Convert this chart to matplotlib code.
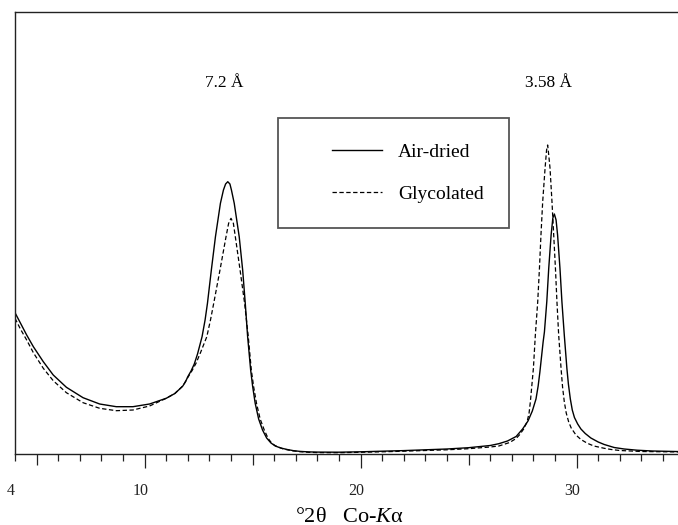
import numpy as np
import matplotlib
matplotlib.use("Agg")
import matplotlib.pyplot as plt
from matplotlib.legend_handler import HandlerLine2D
from matplotlib.transforms import ScaledTranslation

plt.rcParams['font.family'] = ['Liberation Serif', 'DejaVu Serif']
plt.rcParams['mathtext.fontset'] = 'custom'
plt.rcParams['mathtext.rm'] = 'Liberation Serif'
plt.rcParams['mathtext.it'] = 'Liberation Serif:italic'

# ---- data (°2θ, intensity in arbitrary units) ----
air_x = [4.0, 4.25, 4.54, 4.85, 5.31, 5.77, 6.38, 7.15, 7.92, 8.69, 9.46, 10.23,
         11.0, 11.4, 11.6, 11.77, 11.9, 12.0, 12.15, 12.3, 12.45, 12.66, 12.8, 12.91,
         13.09, 13.28, 13.51, 13.65, 13.75, 13.85, 13.95, 14.02, 14.15, 14.38, 14.54,
         14.66, 14.77, 14.91, 15.0, 15.12, 15.28, 15.46, 15.65, 15.85, 16.05, 16.3,
         16.6, 16.9, 17.2, 17.6, 18.0, 19.0, 20.0, 21.0, 22.0, 23.0, 24.0, 25.0,
         26.0, 26.4, 26.8, 27.2, 27.5, 27.75, 27.95, 28.12, 28.22, 28.3, 28.38,
         28.45, 28.51, 28.62, 28.71, 28.82, 28.9, 28.97, 29.05, 29.12, 29.23, 29.32,
         29.43, 29.55, 29.62, 29.71, 29.8, 29.9, 30.05, 30.2, 30.4, 30.66, 31.0,
         31.28, 31.74, 32.2, 32.8, 33.5, 35.0]
air_y = [141.3, 131, 119, 107.3, 92.3, 79, 66.7, 56.3, 50, 47.3, 47.3, 50,
         55.7, 60.5, 64.5, 68, 72.5, 77.3, 83, 90, 100, 117.3, 134, 150.7,
         184, 217.3, 250.7, 264, 270, 272.3, 270, 264, 250.7, 217.3, 184,
         150.7, 117.3, 84, 68, 50.7, 35, 24, 16, 11, 8, 6,
         4.5, 3.3, 2.6, 2.1, 1.9, 1.8, 2.2, 2.8, 3.4, 4.2, 5, 6.3,
         8.5, 10.3, 13, 17.5, 25, 33, 43, 55, 68, 82, 98,
         112, 122, 152.3, 185.7, 219, 236, 240, 234, 219, 185.7, 152.3,
         119, 85.7, 70, 55, 44, 36.5, 30, 25, 20.5, 16, 12,
         9.5, 6.5, 5, 3.8, 3, 2.3]

gly_x = [4.0, 4.25, 4.54, 4.85, 5.31, 5.77, 6.38, 7.15, 7.92, 8.69, 9.46, 10.23,
         11.0, 11.4, 11.77, 12.0, 12.2, 12.38, 12.6, 12.88, 13.05, 13.2, 13.49, 13.77,
         13.89, 14.0, 14.11, 14.2, 14.42, 14.63, 14.8, 14.94, 15.05, 15.18, 15.35,
         15.54, 15.72, 15.89, 16.05, 16.25, 16.4, 16.8, 17.2, 17.6, 18.0, 19.0, 20.0,
         21.0, 22.0, 23.0, 24.0, 25.0, 26.0, 26.4, 26.9, 27.2, 27.35, 27.55, 27.71,
         27.8, 27.86, 28.0, 28.09, 28.2, 28.28, 28.35, 28.43, 28.54, 28.61, 28.66,
         28.71, 28.77, 28.86, 28.94, 29.02, 29.09, 29.17, 29.28, 29.35, 29.43, 29.52,
         29.63, 29.75, 29.97, 30.2, 30.5, 30.8, 31.28, 31.6, 32.0, 33.0, 35.0]
gly_y = [135.7, 125, 114, 101.3, 85.7, 73.3, 61.3, 51.3, 45.7, 43.3, 44, 48,
         55.7, 60.5, 68, 76.5, 83.5, 90.7, 102, 117.3, 134, 150.7, 184, 217.3,
         230.7, 235.7, 230.7, 217.3, 184, 150.7, 117.3, 84, 67, 50.7, 35,
         24, 15.5, 10.7, 8.3, 6.5, 5.2, 3.3, 2.3, 1.7, 1.4, 1.3, 1.7,
         2.2, 2.8, 3.5, 4.2, 5.3, 7, 8, 11.5, 15.5, 19, 25, 32.3,
         41, 52.3, 85.7, 119, 152.3, 185.7, 219, 252.3, 285.7, 304, 309,
         299, 285.7, 252.3, 219, 185.7, 152.3, 119, 85.7, 67, 52.3, 41,
         32.3, 26, 19, 14.5, 10.7, 8, 5.7, 4.5, 3.5, 2.5, 2]

series_labels = ['Air-dried', 'Glycolated']
peak_labels = ['7.2 Å', '3.58 Å']
peak_pos = [13.7, 28.7]
tick_vals = [4, 5, 10, 15, 20, 25, 30, 35]
tick_text = ['4', '', '10', '', '20', '', '30', '']

W, H = 678, 525
PT = 72 / 100  # points per pixel at dpi 100
fig = plt.figure(figsize=(W / 100, H / 100), dpi=100)
x0_px, unit_px = 15, 21.6
ax = fig.add_axes([x0_px / W, 1 - 454 / H, 31 * unit_px / W, (454 - 12) / H])

ax.plot(air_x, air_y, color='black', lw=1.0, label=series_labels[0])
ax.plot(gly_x, gly_y, color='black', lw=0.9, ls=(0, (3.5, 2)), label=series_labels[1])

ax.set_xlim(4, 35)
ax.set_ylim(0, 442)
ax.set_yticks([])
for s in ax.spines.values():
    s.set_linewidth(1.0)
    s.set_color('#222222')

ax.set_xticks(tick_vals, labels=tick_text)
ax.set_xticks(np.arange(4, 36, 1), minor=True)
ax.tick_params(axis='x', which='major', direction='out', length=14 * PT, width=0.9,
               pad=11, labelsize=11.5, colors='#222222')
ax.tick_params(axis='x', which='minor', direction='out', length=7 * PT, width=0.9,
               colors='#222222')
for v, t in zip(tick_vals, ax.xaxis.get_major_ticks()):
    if v == 4:
        t.tick1line.set_markersize(7 * PT)
    elif v % 10 == 5:
        t.tick1line.set_markersize(11 * PT)
off = ScaledTranslation(-4 / 100, 0, fig.dpi_scale_trans)
for lab in ax.get_xticklabels():
    lab.set_transform(lab.get_transform() + off)

for lbl, px in zip(peak_labels, peak_pos):
    ax.text(px, 454 - 86.7, lbl, ha='center', va='baseline', fontsize=12.5)

fig.text((x0_px + 31 * unit_px / 2) / W, 1 - 521.5 / H, '°2θ   Co-$K$α',
         ha='center', va='baseline', fontsize=16)


class LeadHandler(HandlerLine2D):
    def get_xdata(self, legend, xdescent, ydescent, width, height, fontsize):
        lead = 21 * legend.figure.dpi / 100
        xdata = [-xdescent + lead, -xdescent + width]
        return xdata, [-xdescent + 0.5 * width]


fs = 14
fs_px = fs * 100 / 72
leg = ax.legend(loc='upper left', bbox_to_anchor=(277.7 / W, 1 - 117.7 / H),
                bbox_transform=fig.transFigure, borderaxespad=0,
                fontsize=fs, handlelength=(58 + 21) / fs_px, handletextpad=16 / fs_px,
                borderpad=1.3, labelspacing=1.26, fancybox=False, framealpha=1,
                edgecolor='#555555', handler_map={matplotlib.lines.Line2D: LeadHandler()})
leg.get_frame().set_linewidth(1.3)

fig.savefig('out.png', dpi=100)
